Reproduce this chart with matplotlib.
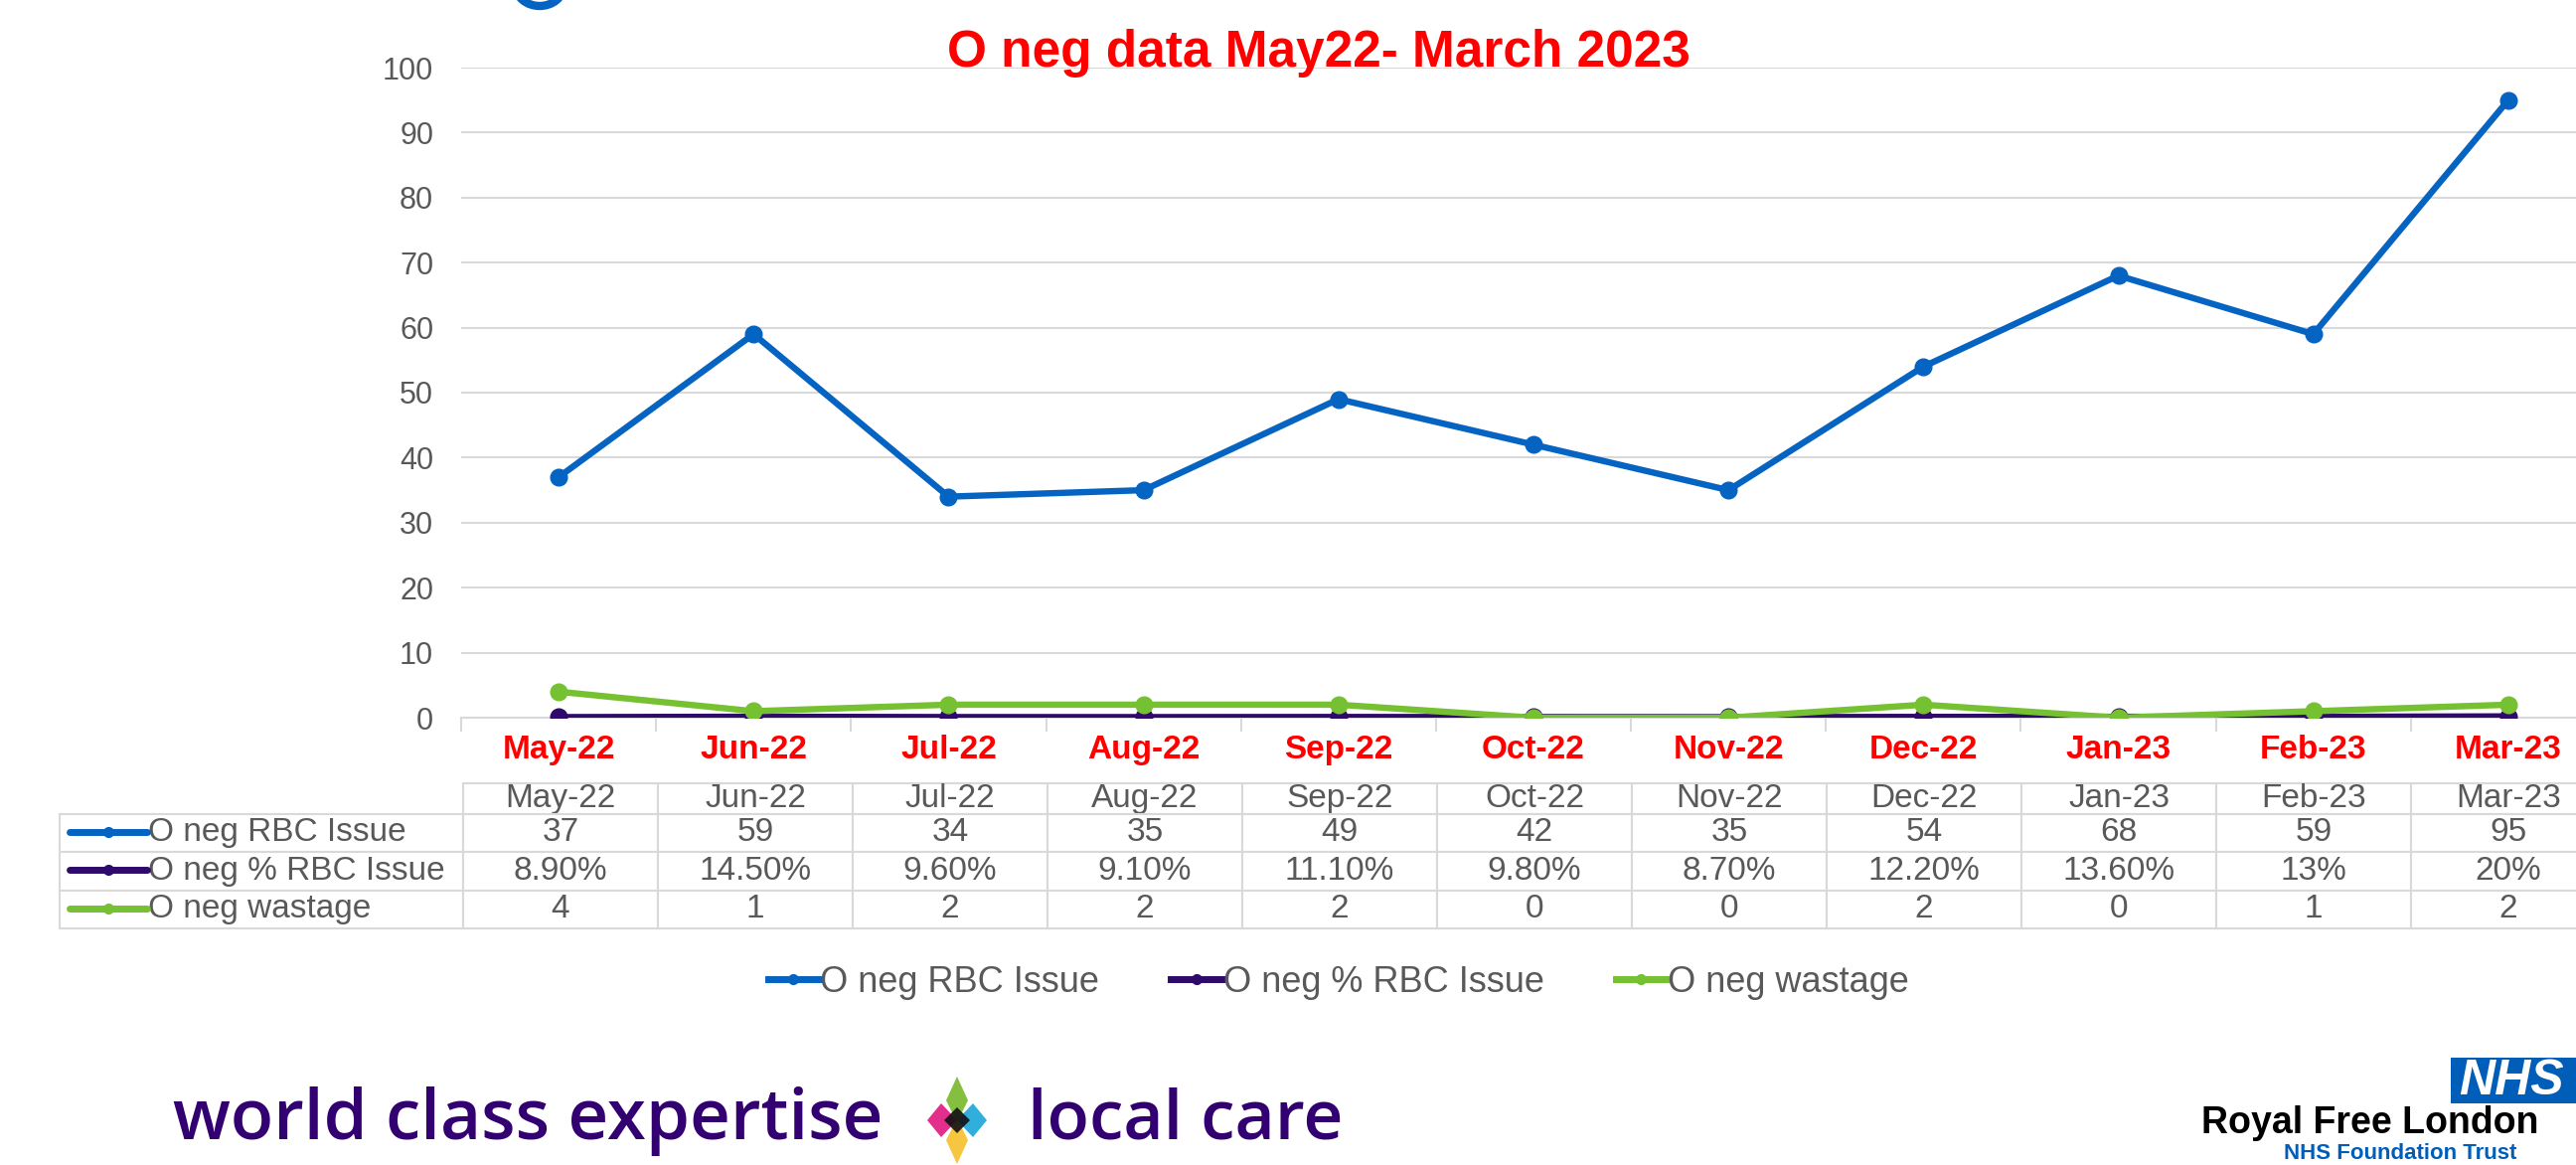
import numpy as np
import matplotlib.pyplot as plt
from matplotlib.lines import Line2D
from matplotlib.patches import Ellipse, Rectangle, Polygon

months = ['May-22', 'Jun-22', 'Jul-22', 'Aug-22', 'Sep-22', 'Oct-22',
          'Nov-22', 'Dec-22', 'Jan-23', 'Feb-23', 'Mar-23']
rbc_issue = [37, 59, 34, 35, 49, 42, 35, 54, 68, 59, 95]
pct_issue = [0.089, 0.145, 0.096, 0.091, 0.111, 0.098, 0.087, 0.122, 0.136, 0.13, 0.20]
pct_labels = ['8.90%', '14.50%', '9.60%', '9.10%', '11.10%', '9.80%',
              '8.70%', '12.20%', '13.60%', '13%', '20%']
wastage = [4, 1, 2, 2, 2, 0, 0, 2, 0, 1, 2]
series_names = ['O neg RBC Issue', 'O neg % RBC Issue', 'O neg wastage']
colors = ['#0563c1', '#2e0a6b', '#76c131']
yticks = list(range(0, 101, 10))

W, H = 2592, 1172
fig = plt.figure(figsize=(W / 100, H / 100), dpi=100)
fig.patch.set_facecolor('white')

sans = ['Liberation Sans', 'DejaVu Sans']
grey = '#595959'

# main axes (runs past the right edge like the slide)
ax_l, ax_r = 464, 2622
ax_t, ax_b = 68, 722
ax = fig.add_axes([ax_l / W, 1 - ax_b / H, (ax_r - ax_l) / W, (ax_b - ax_t) / H])
x = np.arange(len(months))
for vals, c in zip([rbc_issue, pct_issue, wastage], colors):
    ax.plot(x, vals, color=c, lw=4.6, marker='o', ms=12, solid_capstyle='round', zorder=3)

ax.set_xlim(-0.5, len(months) - 0.5)
ax.set_ylim(0, 100)
ax.set_yticks(yticks)
ax.yaxis.grid(True, color='#d9d9d9', lw=1.5)
ax.set_axisbelow(True)
for s in ['top', 'right', 'left']:
    ax.spines[s].set_visible(False)
ax.spines['bottom'].set_color('#d9d9d9')
ax.spines['bottom'].set_linewidth(1.5)
ax.tick_params(axis='y', length=0, pad=20, labelsize=22, labelcolor=grey)
for t in ax.get_yticklabels():
    t.set_fontfamily(sans)
ax.set_xticks(x)
ax.set_xticklabels(months)
ax.set_xticks(np.arange(-0.5, len(months)), minor=True)
ax.tick_params(axis='x', which='major', length=0, pad=12, labelsize=24, labelcolor='#ff0000')
ax.tick_params(axis='x', which='minor', length=10, width=1.5, color='#d9d9d9')
for t in ax.get_xticklabels():
    t.set_fontfamily(sans)
    t.set_fontweight('bold')

# title
fig.text(1327 / W, 1 - 54 / H, 'O neg data May22- March 2023', ha='center', va='center',
         color='#ff0000', fontsize=37, fontweight='bold', family=sans)

# data table under the chart
tab_l, tab_t, tab_b = 60, 788, 934
ax_w = ax_r - ax_l
ax_h = ax_b - ax_t
cell_text = [[series_names[0]] + [str(v) for v in rbc_issue],
             [series_names[1]] + pct_labels,
             [series_names[2]] + [str(v) for v in wastage]]
col_w = [406] + [196] * len(months)
tb = ax.table(cellText=cell_text, colLabels=[''] + months,
              colWidths=[w / ax_w for w in col_w], cellLoc='center',
              bbox=[(tab_l - ax_l) / ax_w, (ax_b - tab_b) / ax_h,
                    sum(col_w) / ax_w, (tab_b - tab_t) / ax_h])
tb.auto_set_font_size(False)
for (r, c), cell in tb.get_celld().items():
    cell.set_edgecolor('#d9d9d9')
    cell.set_linewidth(1.5)
    cell.get_text().set_fontsize(24)
    cell.get_text().set_color(grey)
    cell.get_text().set_fontfamily(sans)
    if r == 0:
        cell.set_height(cell.get_height() * 0.8)
    if r == 0 and c == 0:
        cell.set_edgecolor('white')
    if c == 0 and r > 0:
        cell.get_text().set_ha('left')
        cell._loc = 'left'
        cell.PAD = 0.22
row_y = [837, 875, 914]
for yy, c in zip(row_y, colors):
    fig.add_artist(Line2D([70 / W, 148 / W], [1 - yy / H] * 2, color=c, lw=5,
                          solid_capstyle='round', transform=fig.transFigure))
    fig.add_artist(Line2D([109 / W], [1 - yy / H], color=c, marker='o', ms=7,
                          transform=fig.transFigure))

# legend
handles = [Line2D([], [], color=c, lw=5, marker='o', ms=7) for c in colors]
fig.legend(handles, series_names, loc='center', bbox_to_anchor=(1347 / W, 1 - 988 / H),
           ncol=3, frameon=False, handlelength=1.4, handletextpad=0.05, columnspacing=2.0,
           prop={'family': sans, 'size': 26}, labelcolor=grey)

# footer: strapline
purple = '#330072'
foot = ['Open Sans', 'DejaVu Sans']
fig.text(174 / W, 1 - 1128 / H, 'world class expertise', ha='left', va='center',
         color=purple, fontsize=51, family=foot, fontweight='semibold')
fig.text(1034 / W, 1 - 1128 / H, 'local care', ha='left', va='center',
         color=purple, fontsize=50, family=foot, fontweight='semibold')
cx, cy = 963, 1127
diamond = [
    ([(cx, cy - 44), (cx + 11, cy - 20), (cx, cy + 2), (cx - 11, cy - 20)], '#77b82a'),
    ([(cx, cy + 44), (cx + 11, cy + 20), (cx, cy - 2), (cx - 11, cy + 20)], '#f5c02c'),
    ([(cx - 30, cy), (cx - 16, cy - 17), (cx, cy), (cx - 16, cy + 17)], '#e0187f'),
    ([(cx + 30, cy), (cx + 16, cy - 17), (cx, cy), (cx + 16, cy + 17)], '#1aa7d9'),
    ([(cx - 13, cy), (cx, cy - 13), (cx + 13, cy), (cx, cy + 13)], '#111111'),
]
for pts, c in diamond:
    fig.add_artist(Polygon([(px / W, 1 - py / H) for px, py in pts], closed=True,
                           facecolor=c, edgecolor='none', alpha=0.9, transform=fig.transFigure))

# footer: NHS logo
fig.add_artist(Rectangle((2466 / W, 1 - 1110 / H), 140 / W, 46 / H, facecolor='#005eb8',
                         edgecolor='none', transform=fig.transFigure))
fig.text(2474 / W, 1 - 1088 / H, 'NHS', ha='left', va='center', color='white', fontsize=36,
         fontweight='bold', style='italic', family=sans)
fig.text(2215 / W, 1 - 1130 / H, 'Royal Free London', ha='left', va='center', color='black',
         fontsize=27, fontweight='bold', family=sans)
fig.text(2298 / W, 1 - 1171 / H, 'NHS Foundation Trust', ha='left', va='bottom',
         color='#005eb8', fontsize=16, fontweight='bold', family=sans)

# cut-off blue letter at the very top
fig.add_artist(Ellipse((543 / W, 1 - (-14) / H), 48 / W, 40 / H, facecolor='none',
                       edgecolor='#0563c1', lw=6, transform=fig.transFigure))

fig.savefig('out.png', dpi=100)
